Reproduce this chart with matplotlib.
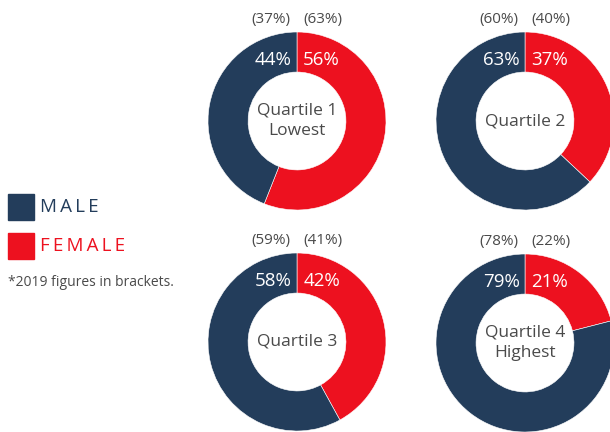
import matplotlib
matplotlib.use("Agg")
import matplotlib.pyplot as plt

plt.rcParams['font.family'] = ['Open Sans', 'DejaVu Sans']

quartiles = ["Quartile 1\nLowest", "Quartile 2", "Quartile 3", "Quartile 4\nHighest"]
male_2020 = [44, 63, 58, 79]
female_2020 = [56, 37, 42, 21]
male_2019 = [37, 60, 59, 78]
female_2019 = [63, 40, 41, 22]

NAVY = "#233D5B"
RED = "#ED111F"
GREY = "#4a4a4a"

W, H = 610, 432
fig = plt.figure(figsize=(W / 100, H / 100), dpi=100)

centers = [(297, 121), (525, 121), (297, 342), (525, 343)]
R = 89

for i, (cx, cy) in enumerate(centers):
    left = (cx - R) / W
    bottom = (H - cy - R) / H
    ax = fig.add_axes([left, bottom, 2 * R / W, 2 * R / H])
    ax.pie([female_2020[i], male_2020[i]], colors=[RED, NAVY], startangle=90,
           counterclock=False, radius=1.0,
           wedgeprops=dict(width=0.45, edgecolor='white', linewidth=0.4))
    ax.set_xlim(-1, 1)
    ax.set_ylim(-1, 1)
    ax.set_aspect('auto')
    ax.axis('off')
    ax.text(0, 0, quartiles[i], ha='center', va='center', fontsize=12.5,
            color=GREY, linespacing=1.4)
    ax.text(-0.06, 0.68, f"{male_2020[i]}%", ha='right', va='center',
            fontsize=13.5, color='white')
    ax.text(0.07, 0.68, f"{female_2020[i]}%", ha='left', va='center',
            fontsize=13.5, color='white')
    ax.text(-0.07, 1.14, f"({male_2019[i]}%)", ha='right', va='center',
            fontsize=11, color=GREY, clip_on=False)
    ax.text(0.07, 1.14, f"({female_2019[i]}%)", ha='left', va='center',
            fontsize=11, color=GREY, clip_on=False)

# legend
legend_labels = ["MALE", "FEMALE"]
legend_colors = [NAVY, RED]
legend_y = [207, 246]
for lab, col, y in zip(legend_labels, legend_colors, legend_y):
    fig.patches.append(plt.Rectangle((8 / W, (H - y - 13) / H), 26 / W, 26 / H,
                                     transform=fig.transFigure, color=col))
    fig.text(40 / W, (H - y) / H, "\u2009".join(lab), ha='left', va='center',
             fontsize=13.5, color=col)

fig.text(8 / W, (H - 283) / H, "*2019 figures in brackets.", ha='left',
         va='center', fontsize=10, color=GREY)

fig.savefig("out.png", dpi=100)
